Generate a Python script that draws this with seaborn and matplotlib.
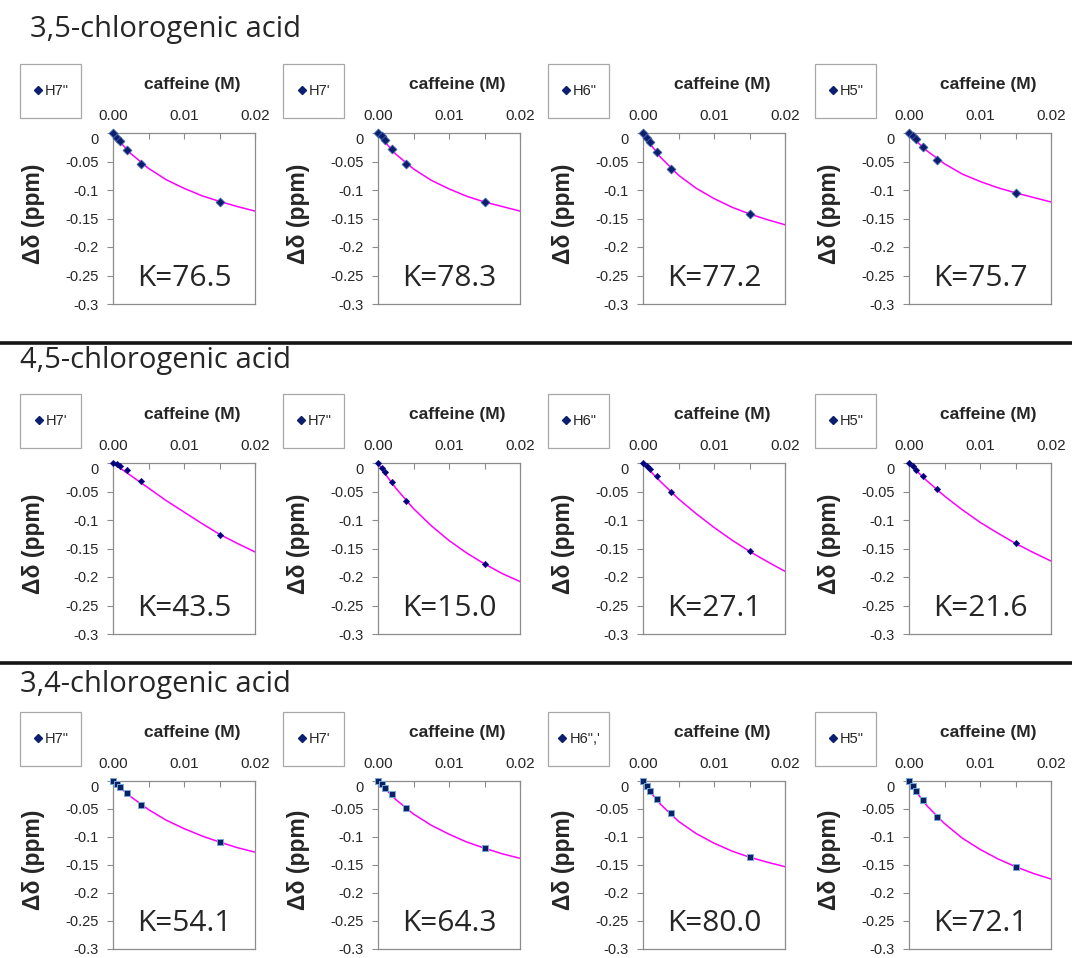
import matplotlib
matplotlib.use("Agg")
import matplotlib.pyplot as plt
import matplotlib.transforms as mtransforms
from matplotlib.lines import Line2D
from matplotlib.patches import Rectangle
import seaborn as sns

# caffeine concentrations of the titration points and of the fitted curve
CONC = [0.0, 0.0005, 0.001, 0.002, 0.004, 0.015]
FIT_CONC = [0.0, 0.001, 0.0025, 0.005, 0.0075, 0.01, 0.0125, 0.015, 0.0175, 0.02]

TITLES = ["3,5-chlorogenic acid", "4,5-chlorogenic acid", "3,4-chlorogenic acid"]
PROTONS_35 = ['H7"', "H7'", 'H6"', 'H5"']
PROTONS_45 = ["H7'", 'H7"', 'H6"', 'H5"']
PROTONS_34 = ['H7"', "H7'", 'H6",\'', 'H5"']
K_35 = ["76.5", "78.3", "77.2", "75.7"]
K_45 = ["43.5", "15.0", "27.1", "21.6"]
K_34 = ["54.1", "64.3", "80.0", "72.1"]

# observed shifts (ppm)
SHIFT_35 = [
    [0, -0.008, -0.014, -0.029, -0.055, -0.121],
    [0, -0.006, -0.012, -0.028, -0.055, -0.121],
    [0, -0.008, -0.016, -0.033, -0.064, -0.142],
    [0, -0.006, -0.011, -0.024, -0.047, -0.105],
]
SHIFT_45 = [
    [0, -0.002, -0.005, -0.013, -0.031, -0.126],
    [0, -0.008, -0.016, -0.034, -0.066, -0.177],
    [0, -0.005, -0.011, -0.023, -0.050, -0.155],
    [0, -0.006, -0.012, -0.023, -0.046, -0.141],
]
SHIFT_34 = [
    [0, -0.005, -0.010, -0.021, -0.042, -0.109],
    [0, -0.006, -0.012, -0.024, -0.048, -0.120],
    [0, -0.009, -0.017, -0.032, -0.058, -0.136],
    [0, -0.009, -0.017, -0.034, -0.064, -0.153],
]

# fitted curves (ppm)
FIT_35 = [
    [0, -0.016, -0.036, -0.062, -0.082, -0.097, -0.110, -0.120, -0.129, -0.137],
    [0, -0.016, -0.037, -0.063, -0.083, -0.098, -0.111, -0.121, -0.129, -0.137],
    [0, -0.019, -0.043, -0.074, -0.097, -0.115, -0.130, -0.142, -0.152, -0.161],
    [0, -0.014, -0.031, -0.054, -0.072, -0.085, -0.096, -0.105, -0.113, -0.121],
]
FIT_45 = [
    [0, -0.009, -0.022, -0.044, -0.066, -0.086, -0.106, -0.125, -0.141, -0.156],
    [0, -0.019, -0.044, -0.080, -0.110, -0.136, -0.158, -0.177, -0.194, -0.208],
    [0, -0.014, -0.033, -0.063, -0.089, -0.113, -0.135, -0.155, -0.173, -0.190],
    [0, -0.013, -0.031, -0.058, -0.082, -0.104, -0.123, -0.141, -0.157, -0.172],
]
FIT_34 = [
    [0, -0.012, -0.028, -0.051, -0.070, -0.085, -0.098, -0.109, -0.119, -0.127],
    [0, -0.014, -0.033, -0.059, -0.079, -0.095, -0.109, -0.120, -0.130, -0.138],
    [0, -0.019, -0.042, -0.072, -0.094, -0.111, -0.125, -0.136, -0.145, -0.153],
    [0, -0.019, -0.044, -0.076, -0.102, -0.122, -0.139, -0.153, -0.165, -0.175],
]

Y_TICKS = [-0.3, -0.25, -0.2, -0.15, -0.1, -0.05, 0]
Y_TICK_LABELS = ["-0.3", "-0.25", "-0.2", "-0.15", "-0.1", "-0.05", "0"]
X_TICKS = [0, 0.005, 0.01, 0.015, 0.02]
X_TICK_LABELS = ["0.00", "", "0.01", "", "0.02"]

# layout in pixels
W, H = 1072, 958
AX_LEFT = [113, 378, 643, 909]
AX_W = 142
AX_TOP = [133, 463, 781]
AX_H = [171, 171, 168]
LEG_LEFT = [20, 283, 548, 815]
LEG_W, LEG_H = 61, 54
TITLE_X = [30, 20, 20]
TITLE_BASE = [37, 368, 692]
SEP_Y = [343, 663]

ROW_STYLE = [
    dict(marker="D", s=20, color="#0c1f6e", edgecolor="#3d5fa8", linewidth=0.6),
    dict(marker="D", s=11, color="#00007a", edgecolor="#00007a", linewidth=0.3),
    dict(marker="s", s=20, color="#0b2262", edgecolor="#7aa6dc", linewidth=0.7),
]
NAVY = "#0c1f6e"
MAGENTA = "#ff00ff"
SPINE = "#8c8c8c"

sns.set_style("white")
plt.rcParams["font.family"] = ["Liberation Sans", "DejaVu Sans"]

fig = plt.figure(figsize=(W / 100, H / 100), dpi=100)


def fx(px):
    return px / W


def fy(py):
    return 1 - py / H


def draw_panel(ax, shifts, fit, k, proton, style, leg_left, ax_top, ax_h):
    sns.lineplot(x=FIT_CONC, y=fit, ax=ax, color=MAGENTA, lw=1.1, zorder=2)
    sns.scatterplot(x=CONC, y=shifts, ax=ax, zorder=3, clip_on=False, **style)

    ax.set_xlim(0, 0.02)
    ax.set_ylim(-0.3, 0)
    ax.xaxis.tick_top()
    ax.xaxis.set_label_position("top")
    ax.set_xticks(X_TICKS, labels=X_TICK_LABELS)
    ax.set_yticks(Y_TICKS, labels=Y_TICK_LABELS)
    ax.tick_params(axis="x", direction="in", length=4, width=0.8, color=SPINE,
                   labelsize=11, pad=7, top=True, bottom=False)
    ax.tick_params(axis="y", direction="out", length=4, width=0.8, color=SPINE,
                   labelsize=10.5, pad=6.5, left=True)
    for sp in ax.spines.values():
        sp.set_color(SPINE)
        sp.set_linewidth(0.9)

    # the "0" label sits a little below its tick in the original
    zero_lab = ax.yaxis.get_major_ticks()[-1].label1
    zero_lab.set_transform(zero_lab.get_transform()
                           + mtransforms.ScaledTranslation(0, -5 / 100, fig.dpi_scale_trans))

    ax.set_xlabel("caffeine (M)", fontsize=12.5, fontweight="bold")
    ax.xaxis.label.set_va("center")
    ax.xaxis.set_label_coords(0.56, 1 + 48 / ax_h)
    ax.set_ylabel("Δδ (ppm)", fontsize=16.5, fontweight="bold")
    ax.yaxis.label.set_va("center")
    ax.yaxis.set_label_coords(-0.56, 0.53)

    ax.text(0.5, 0.15, f"K={k}", transform=ax.transAxes, ha="center", va="center",
            fontsize=21.5, family="Open Sans")

    # legend box
    ltop = ax_top - 69
    fig.add_artist(Rectangle((fx(leg_left), fy(ltop + LEG_H)), LEG_W / W, LEG_H / H,
                             transform=fig.transFigure, fill=False,
                             edgecolor="#a8a8a8", lw=0.9))
    handle = Line2D([], [], marker="D", ls="", color=NAVY, markersize=4)
    ax.legend([handle], [proton], loc="center",
              bbox_to_anchor=(fx(leg_left + LEG_W / 2 + 1), fy(ltop + LEG_H / 2)),
              bbox_transform=fig.transFigure, frameon=False, fontsize=10.5,
              handlelength=0.5, handletextpad=0.25, borderpad=0)


rows = [
    (SHIFT_35, FIT_35, K_35, PROTONS_35),
    (SHIFT_45, FIT_45, K_45, PROTONS_45),
    (SHIFT_34, FIT_34, K_34, PROTONS_34),
]

for r, (shifts, fits, ks, protons) in enumerate(rows):
    fig.text(fx(TITLE_X[r]), fy(TITLE_BASE[r]), TITLES[r], fontsize=21,
             family="Open Sans", ha="left", va="baseline")
    for c in range(4):
        ax = fig.add_axes([fx(AX_LEFT[c]), fy(AX_TOP[r] + AX_H[r]), AX_W / W, AX_H[r] / H])
        draw_panel(ax, shifts[c], fits[c], ks[c], protons[c], ROW_STYLE[r],
                   LEG_LEFT[c], AX_TOP[r], AX_H[r])

for y in SEP_Y:
    fig.add_artist(Line2D([0, 1], [fy(y), fy(y)], transform=fig.transFigure,
                          color="#151515", lw=2.6))

fig.savefig("out.png", dpi=100, facecolor="white")
